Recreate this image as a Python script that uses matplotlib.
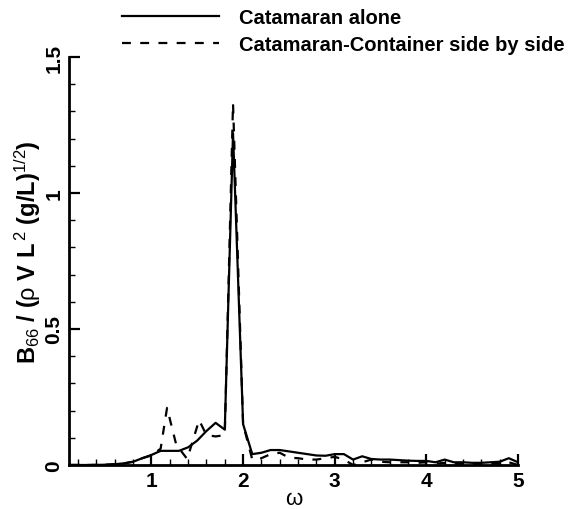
import matplotlib.pyplot as plt
from matplotlib.ticker import MultipleLocator

plt.rcParams['font.family'] = ['Liberation Sans', 'DejaVu Sans']
plt.rcParams['mathtext.fontset'] = 'custom'
plt.rcParams['mathtext.rm'] = 'Liberation Sans'
plt.rcParams['mathtext.bf'] = 'Liberation Sans:bold'
plt.rcParams['mathtext.default'] = 'rm'

# frequency grid (rad/s) and damping for the catamaran alone
omega_alone = [0.1, 0.3, 0.5, 0.6, 0.7, 0.8, 0.9, 1.0, 1.1, 1.2, 1.3, 1.4, 1.5, 1.6, 1.7, 1.8,
               1.89, 2.0, 2.1, 2.2, 2.3, 2.4, 2.5, 2.6, 2.7, 2.8, 2.9, 3.0, 3.1, 3.2, 3.3, 3.4,
               3.5, 3.6, 3.7, 3.8, 3.9, 4.0, 4.1, 4.2, 4.3, 4.4, 4.5, 4.6, 4.7, 4.8, 4.9, 5.0]
b66_alone = [0, 0, 0.001, 0.003, 0.006, 0.012, 0.025, 0.037, 0.052, 0.052, 0.052, 0.065, 0.09,
             0.125, 0.155, 0.13, 1.22, 0.15, 0.04, 0.045, 0.055, 0.055, 0.05, 0.045, 0.04, 0.035,
             0.034, 0.04, 0.04, 0.02, 0.032, 0.022, 0.02, 0.02, 0.018, 0.016, 0.015, 0.015, 0.01,
             0.02, 0.01, 0.01, 0.008, 0.008, 0.01, 0.012, 0.025, 0.01]

# catamaran with container side by side
omega_side = [0.1, 0.3, 0.5, 0.6, 0.7, 0.8, 0.9, 1.0, 1.1, 1.17, 1.27, 1.39, 1.52, 1.6, 1.7, 1.8,
              1.89, 2.0, 2.1, 2.2, 2.3, 2.4, 2.5, 2.6, 2.7, 2.8, 2.9, 3.0, 3.1, 3.2, 3.3, 3.4,
              3.5, 3.6, 3.7, 3.8, 3.9, 4.0, 4.1, 4.2, 4.3, 4.4, 4.5, 4.6, 4.7, 4.8, 4.9, 5.0]
b66_side = [0, 0, 0.001, 0.003, 0.006, 0.012, 0.025, 0.035, 0.06, 0.21, 0.075, 0.022, 0.165,
            0.11, 0.105, 0.11, 1.33, 0.15, 0.02, 0.025, 0.04, 0.045, 0.027, 0.025, 0.02, 0.02,
            0.025, 0.03, 0.02, 0.0, 0.01, 0.02, 0.012, 0.01, 0.01, 0.01, 0.008, 0.01, 0.005,
            0.008, 0.005, 0.005, 0.004, 0.003, 0.005, 0.005, 0.01, 0.0]

fig = plt.figure(figsize=(5.73, 5.10), dpi=100)
ax = fig.add_axes([69 / 573, 1 - 466 / 510, (518 - 69) / 573, (466 - 58) / 510])

ax.plot(omega_alone, b66_alone, color='black', lw=1.6, label='Catamaran alone')
ax.plot(omega_side, b66_side, color='black', lw=1.6, dashes=(4, 4.2),
        label='Catamaran-Container side by side')

ax.set_xlim(0.1, 5)
ax.set_ylim(0, 1.5)
ax.xaxis.set_major_locator(MultipleLocator(1))
ax.xaxis.set_minor_locator(MultipleLocator(0.2))
ax.yaxis.set_major_locator(MultipleLocator(0.5))
ax.yaxis.set_minor_locator(MultipleLocator(0.1))
ax.set_yticks([0, 0.5, 1, 1.5])
ax.set_yticklabels(['0', '0.5', '1', '1.5'], rotation=90, va='center')

for s in ['top', 'right']:
    ax.spines[s].set_visible(False)
for s in ['left', 'bottom']:
    ax.spines[s].set_linewidth(2)

ax.tick_params(which='major', direction='in', length=8, width=1.6, labelsize=15, pad=4)
ax.tick_params(which='minor', direction='in', length=4.5, width=1)
for lbl in ax.get_xticklabels() + ax.get_yticklabels():
    lbl.set_fontweight('bold')

ax.set_xlabel('ω', fontsize=16, fontweight='normal', labelpad=-1)
ax.set_ylabel(r'B$_{66}$ / ($\mathrm{ρ}$ V L$^{\,2}$ (g/L)$^{1/2}$)', fontsize=17, fontweight='bold')
ax.yaxis.set_label_coords(-0.058, 0.525)

leg = ax.legend(loc='upper left', bbox_to_anchor=(104 / 573, 1.018), bbox_transform=fig.transFigure,
                frameon=False, handlelength=4.8, handletextpad=1.0, labelspacing=0.38,
                prop={'weight': 'bold', 'size': 14.5})

fig.savefig('out.png', dpi=100)
